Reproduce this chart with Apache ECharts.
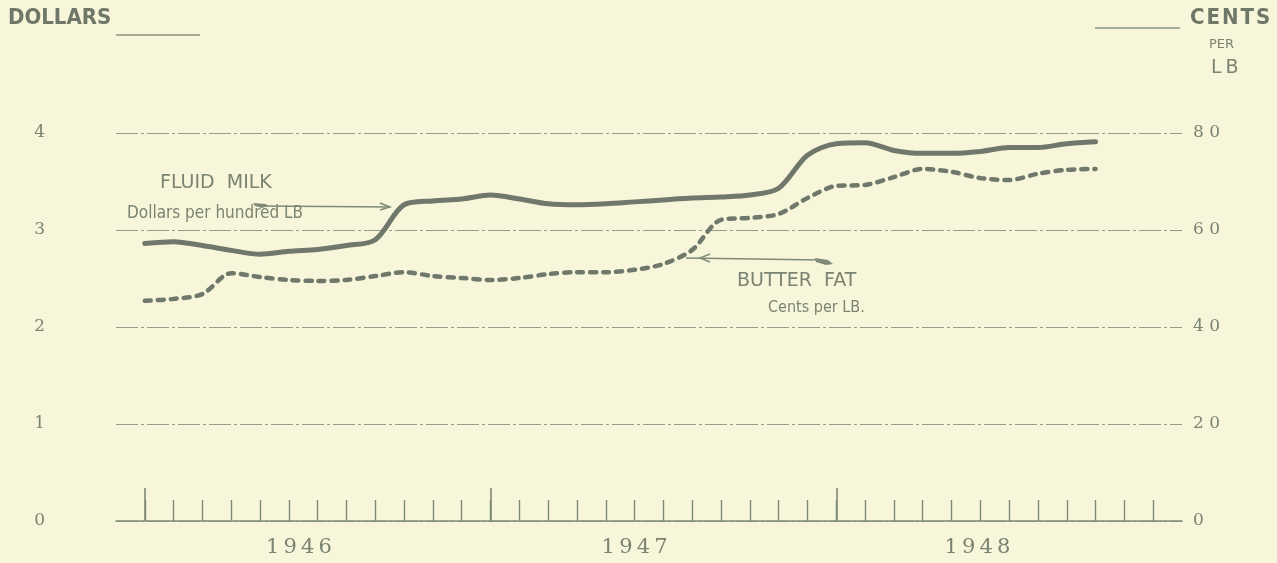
<!DOCTYPE html>
<html><head><meta charset="utf-8">
<script src="https://cdn.jsdelivr.net/npm/echarts@6/dist/echarts.min.js"></script>
<style>html,body{margin:0;padding:0;background:#f7f6da;}#c{width:1277px;height:563px;}</style>
</head><body><div id="c"></div>
<script>
// Monthly index: 0 = Jan 1946 ... 33 = Oct 1948
const monthIndex = [0,1,2,3,4,5,6,7,8,9,10,11,12,13,14,15,16,17,18,19,20,21,22,23,24,25,26,27,28,29,30,31,32,33];
// Fluid milk, dollars per hundred lb (left axis)
const fluidMilk = [2.86,2.88,2.84,2.79,2.75,2.78,2.80,2.84,2.90,3.26,3.30,3.32,
                   3.36,3.32,3.27,3.26,3.27,3.29,3.31,3.33,3.34,3.36,3.43,3.77,
                   3.89,3.90,3.82,3.79,3.79,3.81,3.85,3.85,3.89,3.91];
// Butter fat, cents per lb (right axis)
const butterFat = [45.4,45.8,46.8,51.1,50.3,49.7,49.5,49.7,50.5,51.3,50.5,50.1,
                   49.7,50.1,50.9,51.3,51.3,51.8,53.0,55.9,62.1,62.5,63.3,66.6,
                   69.1,69.3,70.9,72.6,72.0,70.7,70.3,71.6,72.4,72.6];
const dollarTicks = ['0','1','2','3','4'];
const centTicks = ['0','2 0','4 0','6 0','8 0'];
const monthTicks = [0,1,2,3,4,5,6,7,8,9,10,11,12,13,14,15,16,17,18,19,20,21,22,23,24,25,26,27,28,29,30,31,32,33,34,35];
const yearTicks = [0,12,24];
const years = ['1\u20099\u20094\u20096','1\u20099\u20094\u20097','1\u20099\u20094\u20098'];
const yearLabelPos = [5.35,17,28.9];

const ink = '#6f786a';
const txt = '#7b8373';
const chart = echarts.init(document.getElementById('c'), null, {renderer:'canvas'});
const pair = (arr) => monthIndex.map((m,i)=>[m,arr[i]]);

const option = {
  backgroundColor:'#f7f6da',
  animation:false,
  grid:{left:116,top:133,width:1066,height:388,containLabel:false},
  xAxis:[
    {type:'value',min:-1,max:36,position:'bottom',
     axisLine:{show:true,lineStyle:{color:'#7f8a78',width:1.5}},
     axisTick:{show:true,inside:true,length:21,customValues:monthTicks,lineStyle:{color:'#7f8a78',width:1.4}},
     axisLabel:{show:false},splitLine:{show:false}},
    {type:'value',min:-1,max:36,position:'bottom',
     axisLine:{show:false},
     axisTick:{show:true,inside:true,length:33,customValues:yearTicks,lineStyle:{color:'#7f8a78',width:1.6}},
     axisLabel:{show:true,customValues:yearLabelPos,margin:16,
       formatter:(v)=>{const k=yearLabelPos.indexOf(v);return k>=0?years[k]:'';},
       fontFamily:'DejaVu Serif',fontSize:21,color:txt},
     splitLine:{show:false}}
  ],
  yAxis:[
    {type:'value',min:0,max:4,interval:1,position:'left',
     axisLine:{show:false},axisTick:{show:false},
     axisLabel:{margin:71,fontFamily:'DejaVu Serif',fontSize:17,color:txt,
       formatter:(v)=>dollarTicks[Math.round(v)]},
     splitLine:{show:true,lineStyle:{color:'#959e8d',width:1.2,type:[22,3,3,3]}}},
    {type:'value',min:0,max:80,interval:20,position:'right',
     axisLine:{show:false},axisTick:{show:false},
     axisLabel:{margin:11,fontFamily:'DejaVu Serif',fontSize:17,color:txt,
       formatter:(v)=>centTicks[Math.round(v/20)]},
     splitLine:{show:false}}
  ],
  series:[
    {name:'FLUID MILK',type:'line',xAxisIndex:0,yAxisIndex:0,data:pair(fluidMilk),
     smooth:0.3,symbol:'none',lineStyle:{color:ink,width:5,cap:'round'}},
    {name:'BUTTER FAT',type:'line',xAxisIndex:0,yAxisIndex:1,data:pair(butterFat),
     smooth:0.3,symbol:'none',lineStyle:{color:ink,width:4.5,type:[6,7],cap:'round'}}
  ],
  graphic:[
    {type:'text',left:8,top:7,style:{text:'DOLLARS',fill:'#6f7768',font:'bold 22px "DejaVu Sans Condensed"'}},
    {type:'line',shape:{x1:116,y1:35,x2:200,y2:35},style:{stroke:'#8a9482',lineWidth:1.3}},
    {type:'text',left:1190,top:7,style:{text:'C\u200aE\u200aN\u200aT\u200aS',fill:'#6f7768',font:'bold 22px "DejaVu Sans Condensed"'}},
    {type:'line',shape:{x1:1095,y1:28,x2:1180,y2:28},style:{stroke:'#8a9482',lineWidth:1.3}},
    {type:'text',left:1209,top:38,style:{text:'PER',fill:txt,font:'13px "DejaVu Sans"'}},
    {type:'text',left:1211,top:59,style:{text:'L\u2009B',fill:txt,font:'19px "DejaVu Sans"'}},
    {type:'text',left:160,top:174,style:{text:'FLUID  MILK',fill:txt,font:'19px "DejaVu Sans"'}},
    {type:'text',left:127,top:205,style:{text:'Dollars per hundred LB',fill:txt,font:'17px "DejaVu Sans Condensed"'}},
    {type:'line',shape:{x1:262,y1:206,x2:390,y2:207},style:{stroke:'#7f8a78',lineWidth:1.4}},
    {type:'polygon',shape:{points:[[253,203],[266,204],[268,206],[262,208],[255,206]]},style:{fill:'#7f8a78'}},
    {type:'polyline',shape:{points:[[380,203],[390,207],[380,210]]},style:{stroke:'#7f8a78',lineWidth:1.4,fill:null}},
    {type:'text',left:737,top:272,style:{text:'BUTTER  FAT',fill:txt,font:'19px "DejaVu Sans"'}},
    {type:'text',left:768,top:300,style:{text:'Cents per LB.',fill:txt,font:'16px "DejaVu Sans Condensed"'}},
    {type:'line',shape:{x1:686,y1:258,x2:822,y2:260},style:{stroke:'#7f8a78',lineWidth:1.4}},
    {type:'polygon',shape:{points:[[815,258],[828,260],[833,264],[826,265],[816,262]]},style:{fill:'#7f8a78'}},
    {type:'polyline',shape:{points:[[710,254],[700,258],[710,262]]},style:{stroke:'#7f8a78',lineWidth:1.4,fill:null}}
  ]
};
chart.setOption(option);
</script></body></html>
